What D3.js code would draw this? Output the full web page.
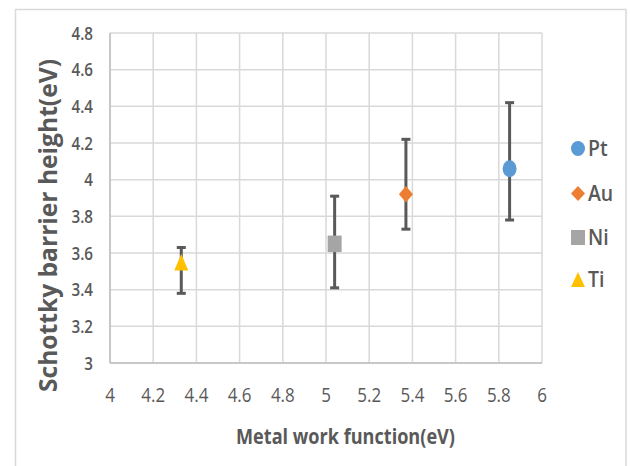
<!DOCTYPE html>
<html>
<head>
<meta charset="utf-8">
<script src="https://cdn.jsdelivr.net/npm/d3@7"></script>
<style>
  html, body { margin: 0; padding: 0; background: #fff; }
  svg { display: block; }
  text { font-family: "Open Sans", "Noto Sans", sans-serif; fill: #595959; }
</style>
</head>
<body>
<svg id="chart" width="630" height="466"></svg>
<script>
// ---- data ----
const metals      = ["Pt", "Au", "Ni", "Ti"];
const workFn      = [5.85, 5.37, 5.04, 4.33];
const barrier     = [4.06, 3.92, 3.65, 3.55];
const errUpper    = [4.42, 4.22, 3.91, 3.63];
const errLower    = [3.78, 3.73, 3.41, 3.38];
const colors      = ["#5B9BD5", "#ED7D31", "#A5A5A5", "#FFC000"];
const shapes      = ["circle", "diamond", "square", "triangle"];
const xTicks      = [4, 4.2, 4.4, 4.6, 4.8, 5, 5.2, 5.4, 5.6, 5.8, 6];
const yTicks      = [3, 3.2, 3.4, 3.6, 3.8, 4, 4.2, 4.4, 4.6, 4.8];
const xTitle      = "Metal work function(eV)";
const yTitle      = "Schottky barrier height(eV)";

// ---- layout ----
const svg = d3.select("#chart");
const plot = { left: 110, right: 542, top: 33, bottom: 363 };

const x = d3.scaleLinear().domain([4, 6]).range([plot.left, plot.right]);
const y = d3.scaleLinear().domain([3, 4.8]).range([plot.bottom, plot.top]);

// outer chart border
svg.append("rect")
  .attr("x", 15.5).attr("y", 9.5)
  .attr("width", 610.5).attr("height", 480)
  .attr("fill", "none").attr("stroke", "#D9D9D9").attr("stroke-width", 1.5);

// gridlines
const grid = svg.append("g");
grid.selectAll("line.v").data(xTicks).join("line")
  .attr("x1", d => x(d)).attr("x2", d => x(d))
  .attr("y1", plot.top).attr("y2", plot.bottom)
  .attr("stroke", "#D9D9D9").attr("stroke-width", 1.5);
grid.selectAll("line.h").data(yTicks).join("line")
  .attr("x1", plot.left).attr("x2", plot.right)
  .attr("y1", d => y(d)).attr("y2", d => y(d))
  .attr("stroke", "#D9D9D9").attr("stroke-width", 1.5);

// axis lines
svg.append("line")
  .attr("x1", plot.left).attr("x2", plot.left)
  .attr("y1", plot.top).attr("y2", plot.bottom)
  .attr("stroke", "#BFBFBF").attr("stroke-width", 1.5);
svg.append("line")
  .attr("x1", plot.left).attr("x2", plot.right)
  .attr("y1", plot.bottom).attr("y2", plot.bottom)
  .attr("stroke", "#BFBFBF").attr("stroke-width", 1.5);

// tick labels
svg.append("g").selectAll("text").data(xTicks).join("text")
  .attr("transform", d => `translate(${x(d)},402) scale(0.87,1)`)
  .attr("text-anchor", "middle")
  .style("font-size", "19.5px")
  .text(d => d3.format("~g")(d));

svg.append("g").selectAll("text").data(yTicks).join("text")
  .attr("transform", d => `translate(93,${y(d)}) scale(0.92,1.1)`)
  .attr("dy", "0.36em")
  .attr("text-anchor", "end")
  .style("font-size", "16.5px").style("font-weight", 600)
  .text(d => d3.format("~g")(d));

// axis titles
svg.append("text")
  .attr("x", 345.5).attr("y", 444)
  .attr("text-anchor", "middle")
  .attr("textLength", 219).attr("lengthAdjust", "spacingAndGlyphs")
  .style("font-size", "21px").style("font-weight", 700)
  .text(xTitle);

svg.append("text")
  .attr("transform", "translate(57,225.5) rotate(-90)")
  .attr("text-anchor", "middle")
  .attr("textLength", 333).attr("lengthAdjust", "spacingAndGlyphs")
  .style("font-size", "25px").style("font-weight", 700)
  .text(yTitle);

// marker path generator (w, h in px)
function markerPath(shape, w, h) {
  const a = w / 2, b = h / 2;
  if (shape === "circle") return `M${-a},0 A${a},${b} 0 1,0 ${a},0 A${a},${b} 0 1,0 ${-a},0 Z`;
  if (shape === "diamond") return `M0,${-b} L${a},0 L0,${b} L${-a},0 Z`;
  if (shape === "square") return `M${-a},${-b} H${a} V${b} H${-a} Z`;
  if (shape === "triangle") return `M0,${-b} L${a},${b} L${-a},${b} Z`;
}

const idx = d3.range(metals.length);

// error bars
const eb = svg.append("g").attr("stroke", "#595959");
eb.selectAll("line.stem").data(idx).join("line")
  .attr("x1", i => x(workFn[i])).attr("x2", i => x(workFn[i]))
  .attr("y1", i => y(errUpper[i])).attr("y2", i => y(errLower[i]))
  .attr("stroke-width", 3);
eb.selectAll("line.capU").data(idx).join("line")
  .attr("x1", i => x(workFn[i]) - 4.5).attr("x2", i => x(workFn[i]) + 4.5)
  .attr("y1", i => y(errUpper[i])).attr("y2", i => y(errUpper[i]))
  .attr("stroke-width", 3);
eb.selectAll("line.capL").data(idx).join("line")
  .attr("x1", i => x(workFn[i]) - 4.5).attr("x2", i => x(workFn[i]) + 4.5)
  .attr("y1", i => y(errLower[i])).attr("y2", i => y(errLower[i]))
  .attr("stroke-width", 3);

// markers
svg.append("g").selectAll("path").data(idx).join("path")
  .attr("transform", i => `translate(${x(workFn[i])},${y(barrier[i])})`)
  .attr("d", i => markerPath(shapes[i], 14, shapes[i] === "circle" ? 17 : 16.5))
  .attr("fill", i => colors[i]);

// legend
const legY = [148.5, 193.5, 237.5, 279.5];
const leg = svg.append("g");
leg.selectAll("path").data(idx).join("path")
  .attr("transform", i => `translate(578,${legY[i]})`)
  .attr("d", i => markerPath(shapes[i], 14, 15))
  .attr("fill", i => colors[i]);
leg.selectAll("text").data(idx).join("text")
  .attr("transform", i => `translate(588,${legY[i]}) scale(0.95,1.08)`)
  .attr("dy", "0.36em")
  .style("font-size", "20.5px").style("font-weight", 600)
  .text(i => metals[i]);
</script>
</body>
</html>
